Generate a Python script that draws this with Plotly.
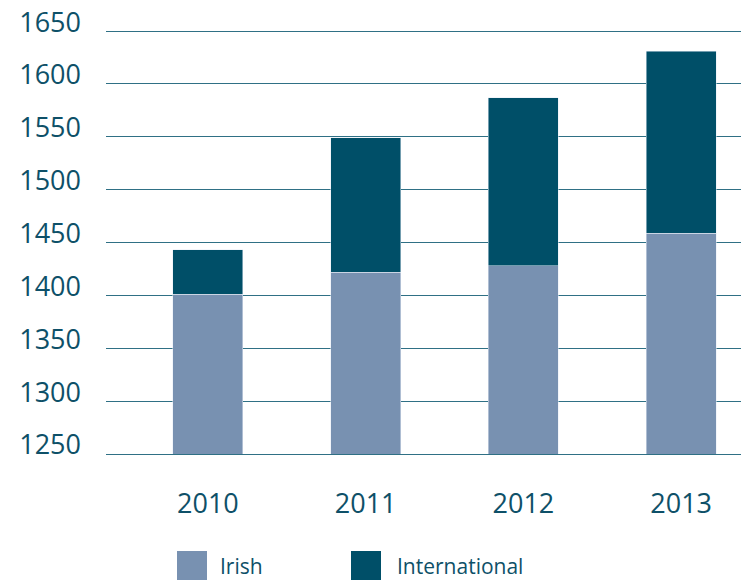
import plotly.graph_objects as go

years = ["2010", "2011", "2012", "2013"]
irish = [1401, 1422, 1428, 1459]
international = [42, 127, 159, 172]
series_names = ["Irish", "International"]

COLORS = {"irish": "#7891B1", "intl": "#004F68", "text": "#0E5068", "grid": "#2F7085"}
FONT = "Open Sans, DejaVu Sans, sans-serif"

# the page body has an 8px margin, so the figure sits 8px in from the window corner
W, H = 749, 588
L, R, T, B = 98, 8, 21, 142
PW, PH = W - L - R, H - T - B
OFF = 8


def px_x(x):
    # window pixel -> paper x
    return (x - OFF - L) / PW


def px_y(y):
    # window pixel -> paper y
    return (H - B - (y - OFF)) / PH


fig = go.Figure()
fig.add_trace(go.Bar(x=years, y=irish, name=series_names[0], marker_color=COLORS["irish"]))
fig.add_trace(go.Bar(x=years, y=international, name=series_names[1], marker_color=COLORS["intl"]))

# legend drawn by hand, the reference uses big square swatches
legend_items = [(177, COLORS["irish"], 218), (351, COLORS["intl"], 395)]
for (sx, col, tx), name in zip(legend_items, series_names):
    fig.add_shape(type="rect", xref="paper", yref="paper",
                  x0=px_x(sx), x1=px_x(sx + 30), y0=px_y(551), y1=px_y(580),
                  fillcolor=col, line_width=0)
    fig.add_annotation(x=px_x(tx), y=px_y(566), xref="paper", yref="paper", text=name,
                       showarrow=False, xanchor="left", yanchor="middle",
                       font=dict(family=FONT, size=21, color=COLORS["text"]))

fig.update_layout(
    width=W, height=H,
    margin=dict(l=L, r=R, t=T, b=B),
    barmode="stack",
    bargap=0.557,
    plot_bgcolor="white", paper_bgcolor="white",
    font=dict(family=FONT, size=27, color=COLORS["text"]),
    showlegend=False,
    xaxis=dict(type="category", range=[-0.646, 3.43], showgrid=False,
               showline=True, linecolor=COLORS["grid"], linewidth=1,
               ticks="", ticklabelstandoff=26, zeroline=False, automargin=False),
    yaxis=dict(range=[1250, 1652], tickvals=[1250, 1300, 1350, 1400, 1450, 1500, 1550, 1600, 1650],
               showgrid=True, gridcolor=COLORS["grid"], gridwidth=1, zeroline=False,
               showline=False, ticks="", ticklabelstandoff=24, ticklabelshift=-9,
               ticklabeloverflow="allow", automargin=False),
)

fig.write_html("out.html")
